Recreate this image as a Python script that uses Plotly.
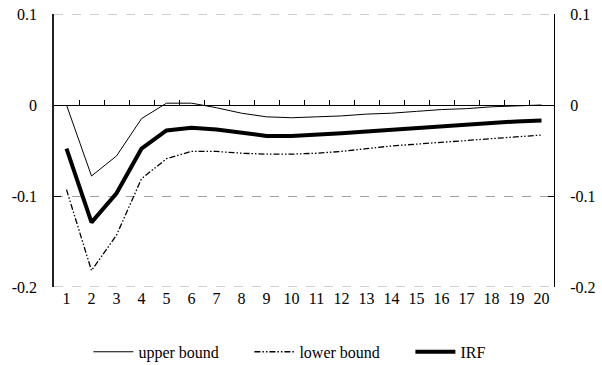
import plotly.graph_objects as go

periods = list(range(1, 21))
upper_bound = [0.0, -0.078, -0.056, -0.015, 0.002, 0.002, -0.003, -0.009, -0.013, -0.014,
               -0.013, -0.012, -0.010, -0.009, -0.007, -0.005, -0.004, -0.002, -0.001, 0.0]
lower_bound = [-0.093, -0.182, -0.143, -0.081, -0.059, -0.051, -0.051, -0.053, -0.054, -0.054,
               -0.053, -0.051, -0.048, -0.045, -0.043, -0.041, -0.039, -0.037, -0.035, -0.033]
irf = [-0.048, -0.129, -0.097, -0.048, -0.028, -0.025, -0.027, -0.030, -0.034, -0.034,
       -0.033, -0.031, -0.029, -0.027, -0.026, -0.023, -0.022, -0.020, -0.018, -0.017]

y_ticks = [0.1, 0.0, -0.1, -0.2]
y_ticktext = ["0.1", "0", "-0.1", "-0.2"]
boundaries = [k + 0.5 for k in range(1, 20)]

FONT = "Liberation Serif"
FS = 16
GRID = "#a0a0a0"

fig = go.Figure()
fig.add_trace(go.Scatter(x=periods, y=upper_bound, mode="lines", name="upper bound",
                         line=dict(color="black", width=1)))
fig.add_trace(go.Scatter(x=periods, y=lower_bound, mode="lines", name="lower bound",
                         line=dict(color="black", width=1.3, dash="6px,2px,1.5px,2px,1.5px,2px")))
fig.add_trace(go.Scatter(x=periods, y=irf, mode="lines", name="IRF",
                         line=dict(color="black", width=4)))
# helper trace to draw the secondary axes (zero line with ticks, right axis)
fig.add_trace(go.Scatter(x=[1], y=[0], xaxis="x2", yaxis="y2", mode="markers",
                         marker=dict(opacity=0), showlegend=False, hoverinfo="skip"))

# dashed gridlines at the range edges (plotly omits gridlines on the plot border)
for v in (max(y_ticks), min(y_ticks)):
    fig.add_shape(type="line", xref="paper", x0=0, x1=1, yref="y", y0=v, y1=v,
                  line=dict(color=GRID, width=1, dash="dash"), layer="below")

fig.update_layout(
    width=602, height=365,
    margin=dict(l=54, r=48, t=14, b=78, autoexpand=False),
    paper_bgcolor="white", plot_bgcolor="white",
    font=dict(family=FONT, size=FS, color="black"),
    showlegend=True,
    legend=dict(orientation="h", x=0.548, xref="container", xanchor="center",
                y=0.036, yref="container", yanchor="middle",
                font=dict(family=FONT, size=FS), itemwidth=40, tracegroupgap=0,
                entrywidth=106, entrywidthmode="pixels",
                bgcolor="rgba(0,0,0,0)"),
    xaxis=dict(range=[0.5, 20.5], tickvals=periods, ticktext=[str(p) for p in periods],
               showgrid=False, zeroline=False, showline=False, ticks="",
               tickfont=dict(family=FONT, size=FS)),
    xaxis2=dict(range=[0.5, 20.5], overlaying="x", anchor="free", position=2/3,
                tickvals=boundaries, ticks="inside", ticklen=5, tickcolor="black",
                showticklabels=False, showgrid=False, zeroline=False,
                showline=True, linecolor="black", linewidth=1),
    yaxis=dict(range=[-0.2, 0.1], tickvals=y_ticks, ticktext=y_ticktext,
               showgrid=True, gridcolor=GRID, griddash="dash", gridwidth=1,
               zeroline=False, showline=True, linecolor="#222", linewidth=1.5,
               ticks="inside", ticklen=7, tickcolor="black",
               ticklabelstandoff=12,
               tickfont=dict(family=FONT, size=FS)),
    yaxis2=dict(range=[-0.2, 0.1], tickvals=y_ticks, ticktext=y_ticktext,
                overlaying="y", side="right", anchor="x2",
                showgrid=False, zeroline=False, showline=True, linecolor="black", linewidth=1,
                ticks="inside", ticklen=6, tickcolor="black",
                ticklabelstandoff=12,
                tickfont=dict(family=FONT, size=FS)),
)

fig.write_html("out.html")
